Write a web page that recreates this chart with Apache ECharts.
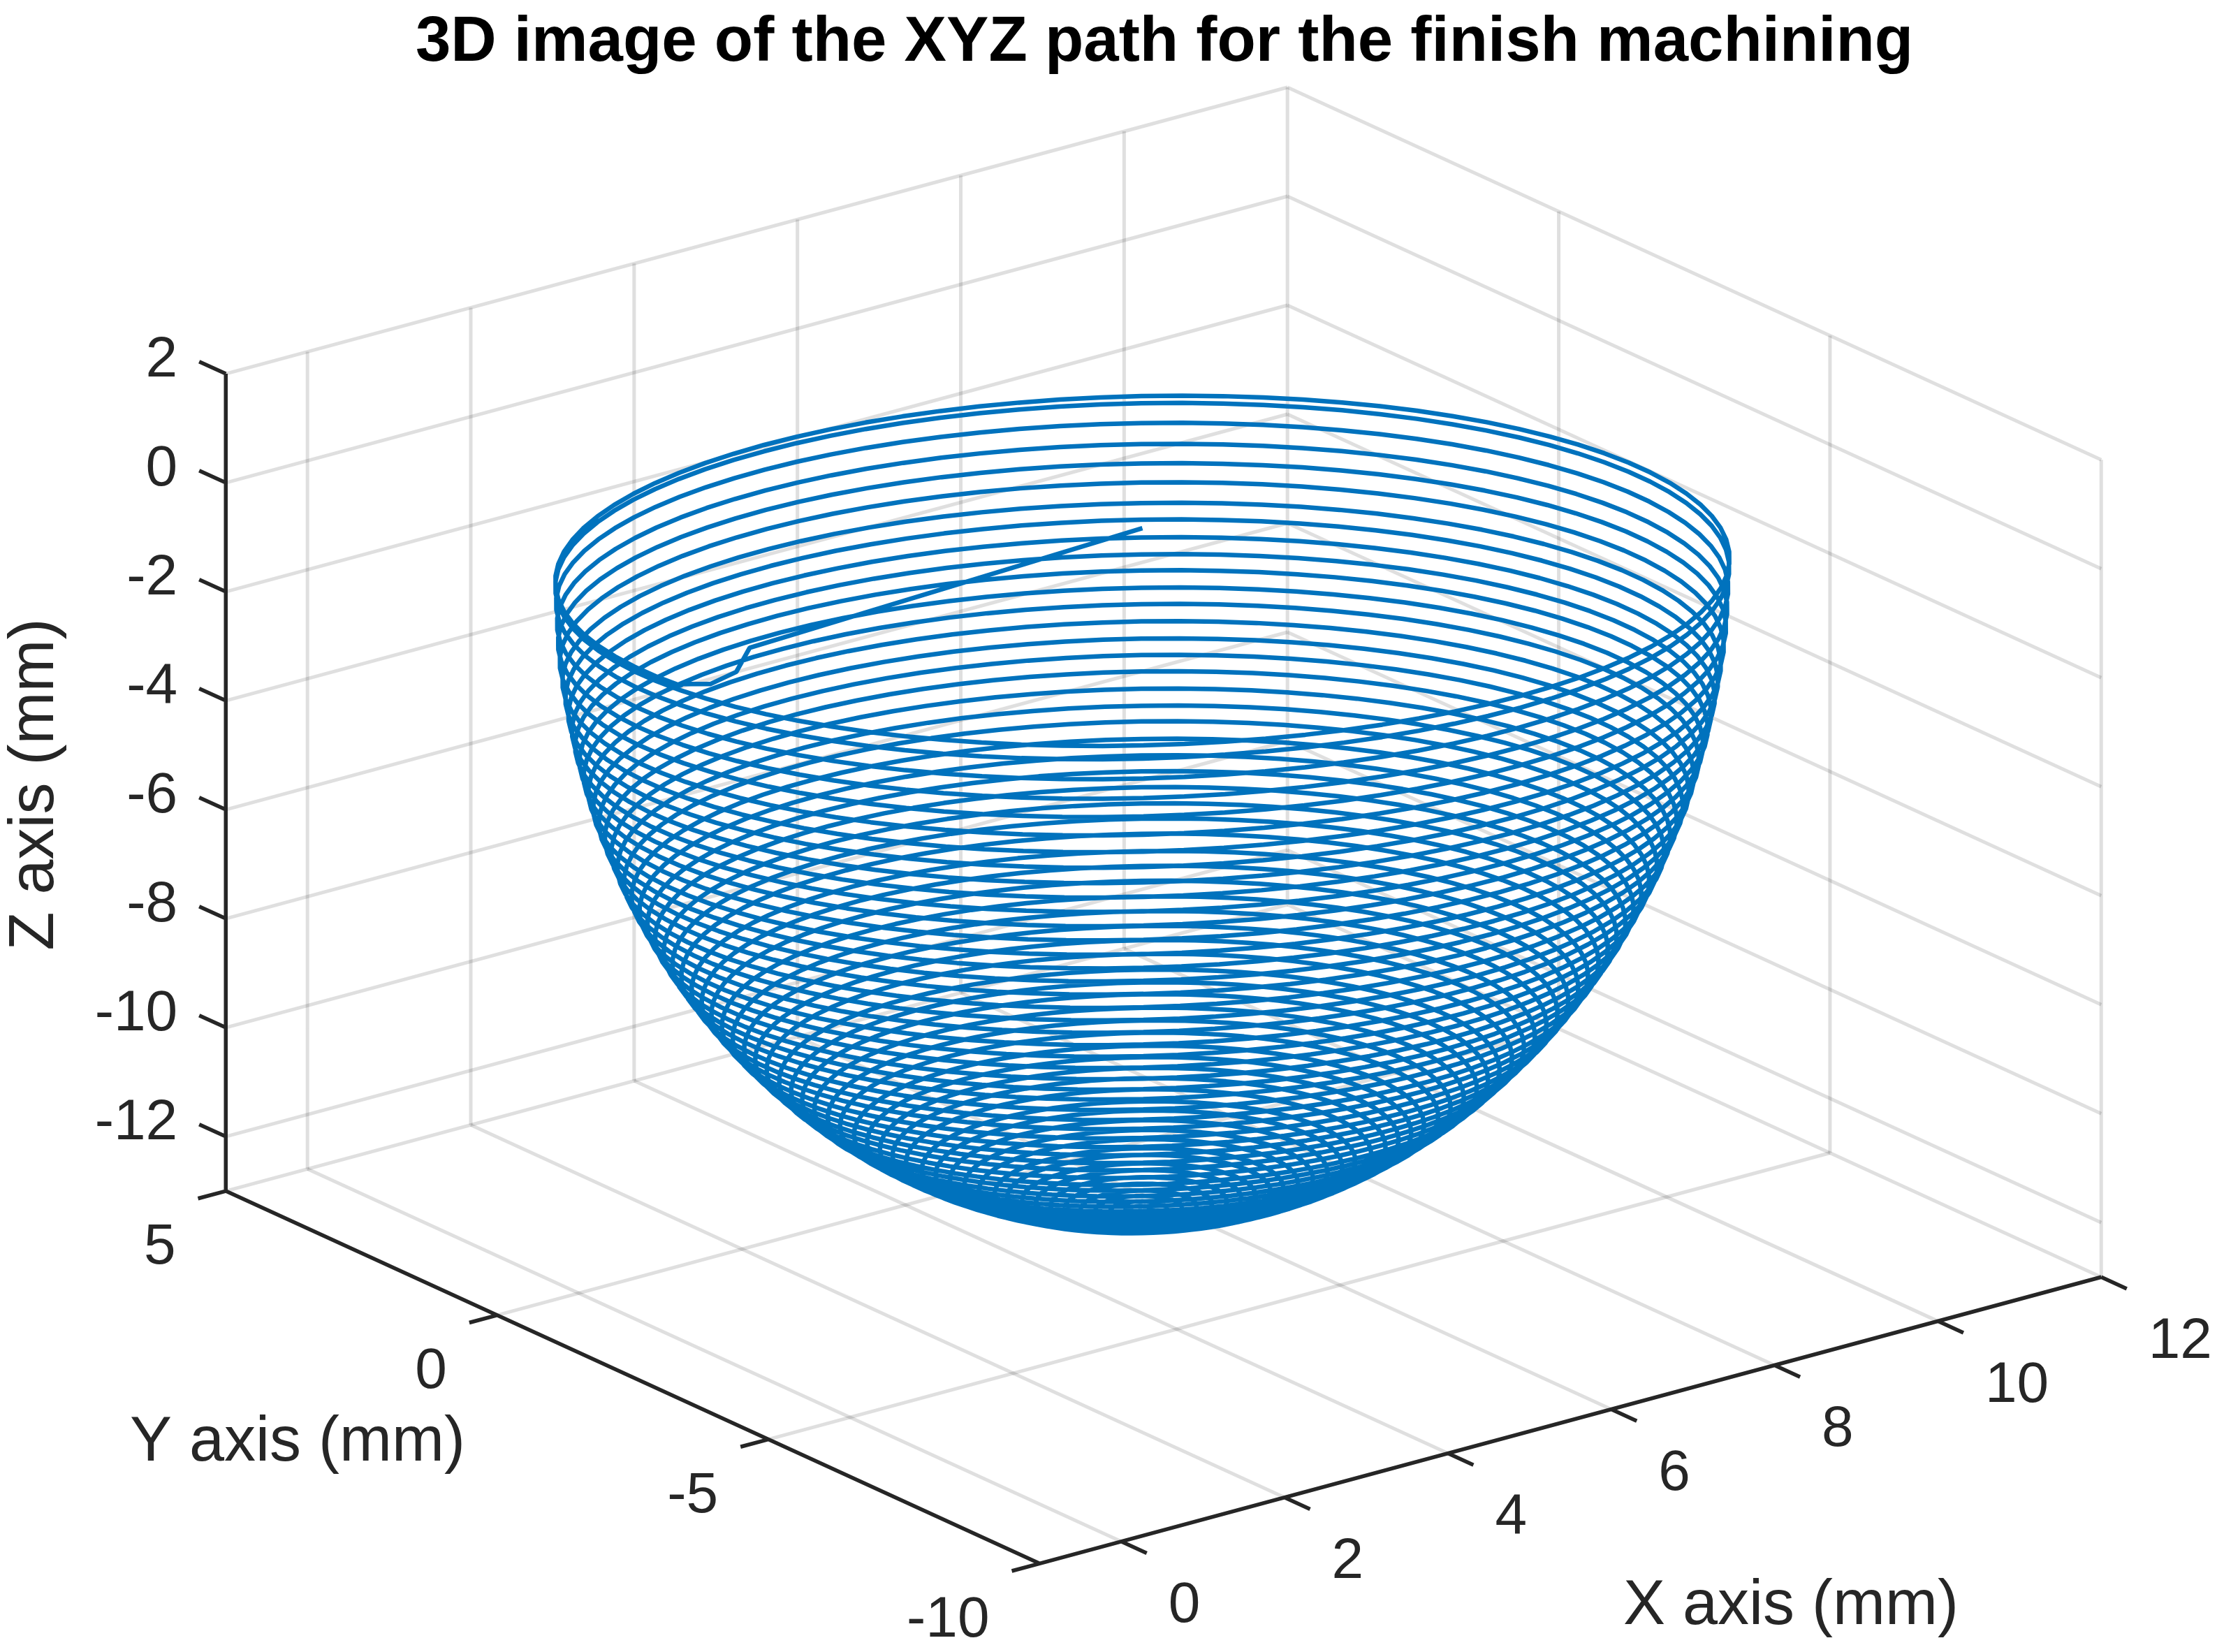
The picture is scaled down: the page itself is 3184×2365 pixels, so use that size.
<!DOCTYPE html>
<html lang="en">
<head>
    <meta charset="UTF-8">
    <title>XYZ path</title>
    <script type="text/javascript" src="https://cdn.jsdelivr.net/npm/echarts@6/dist/echarts.min.js"></script>
    <style>html, body {margin: 0; padding: 0; background: #fff;}</style>
</head>
<body>
<div id="main" style="width: 3184px;height: 2365px"></div>
<script type="text/javascript">
    var xTicks = [0, 2, 4, 6, 8, 10, 12];
    var yTicks = [-10, -5, 0, 5];
    var zTicks = [-12, -10, -8, -6, -4, -2, 0, 2];
    var xLim = [-1, 12];
    var yLim = [-10, 5];
    var zLim = [-13, 2];

    // one entry per turn of the spiral, read at the back of each ring
    var turnZ = [-1.08, -1.21, -1.57, -1.95, -2.30, -2.64, -3.00, -3.29, -3.60, -3.89,
        -4.17, -4.46, -4.74, -5.03, -5.32, -5.59, -5.86, -6.14, -6.42, -6.67,
        -6.95, -7.21, -7.46, -7.71, -7.96, -8.19, -8.42, -8.68, -8.90, -9.12,
        -9.35, -9.56, -9.77, -9.97, -10.16, -10.38, -10.55, -10.71, -10.89, -11.05,
        -11.21, -11.37, -11.51, -11.64, -11.76, -11.89, -12.02, -12.12, -12.22, -12.32,
        -12.41, -12.49, -12.55, -12.62, -12.67, -12.72, -12.76, -12.80, -12.82, -12.84,
        -12.85, -12.853];
    var turnR = [6.00, 6.00, 5.99, 5.98, 5.97, 5.95, 5.92, 5.89, 5.86, 5.82,
        5.79, 5.74, 5.70, 5.65, 5.60, 5.54, 5.48, 5.41, 5.35, 5.28,
        5.20, 5.12, 5.04, 4.96, 4.87, 4.78, 4.69, 4.58, 4.48, 4.38,
        4.27, 4.16, 4.04, 3.93, 3.81, 3.68, 3.56, 3.45, 3.32, 3.18,
        3.06, 2.91, 2.78, 2.65, 2.52, 2.38, 2.21, 2.08, 1.93, 1.78,
        1.63, 1.47, 1.35, 1.19, 1.05, 0.90, 0.75, 0.59, 0.44, 0.29,
        0.14, 0];

    // approach move before the first ring
    var leadX = [5.6, 1.23, 0.72, 0.32, 0.11];
    var leadY = [-1.96, -1.30, -1.82, -1.95, -1.76];
    var leadZ = [-0.33, -1.06, -1.06, -1.06, -1.06];

    // view of the box on the page
    var origin = [1488.3, 2238.3];
    var xStep = [116.92, -31.54];
    var yStep = [-77.67, -35.55];
    var zStep = 78;

    // bowl axis and ring shape (ring is a bit squashed and turned in xy)
    var bowlX = 5.6, bowlY = -1.96;
    var ringA = [4.735 / 6, -3.695 / 6];
    var ringB = [2.914 / 6, 4.377 / 6];
    var startTurn = -0.356;
    var stepsPerTurn = 90;

    function project(x, y, z) {
        var a = x - xLim[0], b = y - yLim[0], c = z - zLim[0];
        return [
            origin[0] + a * xStep[0] + b * yStep[0],
            origin[1] + a * xStep[1] + b * yStep[1] - c * zStep
        ];
    }

    function segs(list) {
        var out = [];
        for (var i = 0; i < list.length; i++) {
            out.push(project.apply(null, list[i][0]));
            out.push(project.apply(null, list[i][1]));
            out.push([NaN, NaN]);
        }
        return out;
    }

    function pathData() {
        var out = [], i;
        for (i = 0; i < leadX.length; i++) {
            out.push(project(leadX[i], leadY[i], leadZ[i]));
        }
        var total = Math.round((turnZ.length - 1 - startTurn) * stepsPerTurn);
        for (i = 0; i <= total; i++) {
            var s = startTurn + i / stepsPerTurn;
            var k = Math.min(Math.max(Math.floor(s), 0), turnZ.length - 2);
            var f = Math.max(s - k, 0);
            var z = turnZ[k] + (turnZ[k + 1] - turnZ[k]) * f;
            var r = turnR[k] + (turnR[k + 1] - turnR[k]) * f;
            var t = Math.PI / 2 - 2 * Math.PI * s;
            var c = Math.cos(t), n = Math.sin(t);
            out.push(project(
                bowlX + r * (ringA[0] * c + ringB[0] * n),
                bowlY + r * (ringA[1] * c + ringB[1] * n),
                z));
        }
        return out;
    }

    var gridVert = [], gridLevel = [], gridFloorX = [], gridFloorY = [];
    xTicks.forEach(function (x) {
        gridVert.push([[x, yLim[1], zLim[0]], [x, yLim[1], zLim[1]]]);
        gridFloorX.push([[x, yLim[0], zLim[0]], [x, yLim[1], zLim[0]]]);
    });
    yTicks.forEach(function (y) {
        gridVert.push([[xLim[1], y, zLim[0]], [xLim[1], y, zLim[1]]]);
        gridFloorY.push([[xLim[0], y, zLim[0]], [xLim[1], y, zLim[0]]]);
    });
    zTicks.forEach(function (z) {
        gridLevel.push([[xLim[0], yLim[1], z], [xLim[1], yLim[1], z]]);
        gridLevel.push([[xLim[1], yLim[1], z], [xLim[1], yLim[0], z]]);
    });

    var xLen = 0.47, yLen = 0.34, zLen = 0.49;
    var axisSegs = [
        [[xLim[0], yLim[0], zLim[0]], [xLim[1], yLim[0], zLim[0]]],
        [[xLim[0], yLim[0], zLim[0]], [xLim[0], yLim[1], zLim[0]]],
        [[xLim[0], yLim[1], zLim[0]], [xLim[0], yLim[1], zLim[1]]]
    ];
    var xLabels = [], yLabels = [], zLabels = [];
    xTicks.forEach(function (x) {
        axisSegs.push([[x, yLim[0], zLim[0]], [x, yLim[0] - xLen, zLim[0]]]);
        var p = project(x, yLim[0] - xLen, zLim[0]);
        xLabels.push([p[0] + 31, p[1] + 76, String(x)]);
    });
    yTicks.forEach(function (y) {
        axisSegs.push([[xLim[0], y, zLim[0]], [xLim[0] - yLen, y, zLim[0]]]);
        var p = project(xLim[0] - yLen, y, zLim[0]);
        yLabels.push([p[0] - 32, p[1] + 71, String(y)]);
    });
    zTicks.forEach(function (z) {
        axisSegs.push([[xLim[0], yLim[1], z], [xLim[0], yLim[1] + zLen, z]]);
        var p = project(xLim[0], yLim[1] + zLen, z);
        zLabels.push([p[0] - 31, p[1] - 1, String(z)]);
    });

    function gridSeries(list) {
        return {
            type: 'line', data: segs(list), showSymbol: false, silent: true, animation: false,
            lineStyle: {color: '#262626', opacity: 0.15, width: 5}
        };
    }

    function textSeries(data, align, size, rotate) {
        return {
            type: 'scatter', data: data, symbolSize: 1, silent: true, animation: false,
            itemStyle: {color: 'transparent', opacity: 1},
            label: {
                show: true, position: 'inside', align: align, verticalAlign: 'middle',
                rotate: rotate || 0, color: '#262626', fontSize: size, opacity: 1,
                fontFamily: 'Liberation Sans',
                formatter: function (p) { return p.value[2]; }
            }
        };
    }

    var myChart = echarts.init(document.getElementById('main'), null, {renderer: 'canvas'});
    var option = {
        backgroundColor: '#fff',
        animation: false,
        title: {
            text: '3D image of the XYZ path for the finish machining',
            left: 1662, top: 12, textAlign: 'center',
            textStyle: {color: '#000', fontSize: 90.6, fontWeight: 'bold', fontFamily: 'Liberation Sans'}
        },
        grid: {left: 0, right: 0, top: 0, bottom: 0},
        xAxis: {type: 'value', min: 0, max: 3184, show: false},
        yAxis: {type: 'value', min: 0, max: 2365, inverse: true, show: false},
        series: [
            gridSeries(gridVert),
            gridSeries(gridLevel),
            gridSeries(gridFloorX),
            gridSeries(gridFloorY),
            {
                type: 'line', data: segs(axisSegs), showSymbol: false, silent: true, animation: false,
                lineStyle: {color: '#262626', width: 5.5}
            },
            {
                type: 'line', data: pathData(), showSymbol: false, silent: true, animation: false,
                lineStyle: {color: '#0072BD', width: 6.5}
            },
            textSeries(xLabels, 'left', 82),
            textSeries(yLabels, 'right', 82),
            textSeries(zLabels, 'right', 82),
            textSeries([[2564, 2300, 'X axis (mm)']], 'center', 90),
            textSeries([[426, 2066, 'Y axis (mm)']], 'center', 90),
            textSeries([[51, 1123, 'Z axis (mm)']], 'center', 90, 90)
        ]
    };
    myChart.setOption(option);
</script>
</body>
</html>
